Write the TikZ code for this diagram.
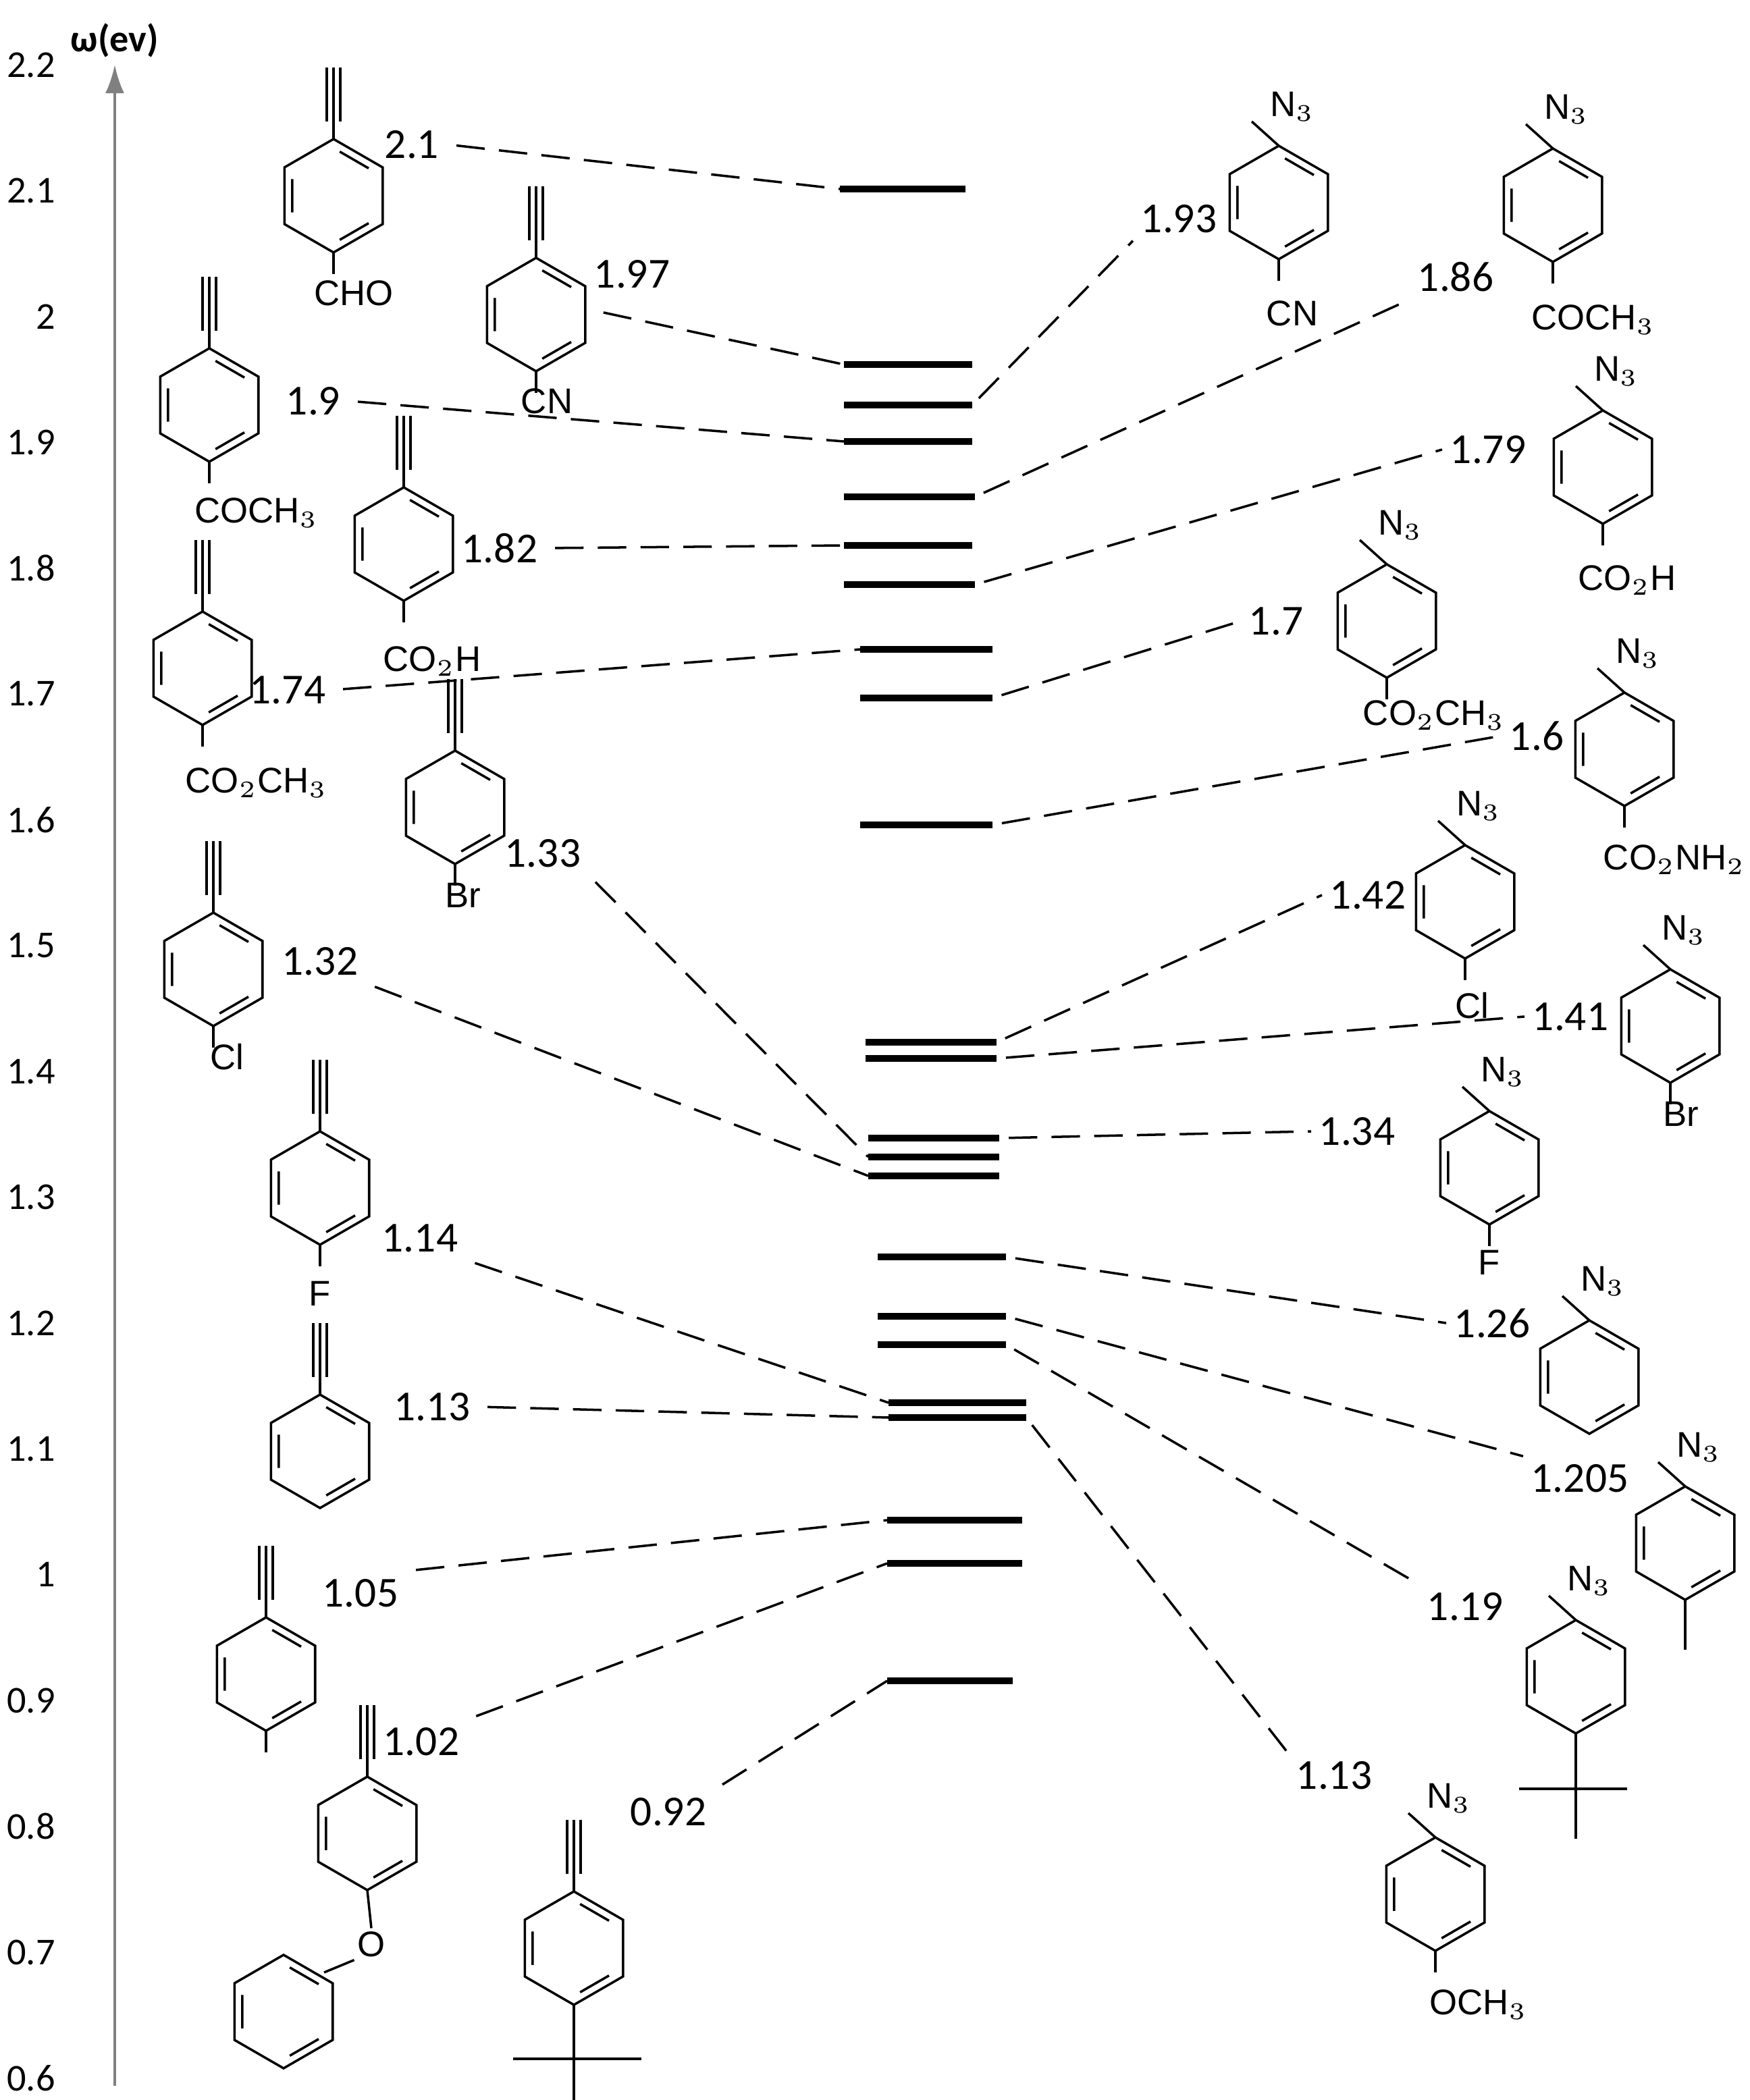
\documentclass[tikz,border=0pt]{standalone}
\usepackage{fontspec}
\setmainfont{Carlito}
\newfontfamily\chemf{Liberation Sans}
\usetikzlibrary{arrows.meta}
\begin{document}
\begin{tikzpicture}[x=0.01cm,y=-0.01cm,
 lev/.style={line width=1.3pt},
 dsh/.style={dashed,dash pattern=on 6pt off 3pt,line width=0.5pt,shorten <=2pt},
 num/.style={font=\fontsize{9}{10}\selectfont,inner sep=1.5pt},
 chem/.style={font=\chemf\fontsize{7.5}{9}\selectfont,inner sep=0.5pt},
 ax/.style={font=\fontsize{8}{9}\selectfont,anchor=east,inner sep=1pt},
 bond/.style={line width=0.5pt},
 ring/.pic={\draw[bond] (90:42)--(150:42)--(210:42)--(270:42)--(330:42)--(30:42)--cycle;
   \draw[bond] (38:33)--(82:33) (158:33)--(202:33) (278:33)--(322:33);},
 alk/.pic={\draw[bond] (0,-42)--(0,-95) (-5,-55)--(-5,-95) (5,-55)--(5,-95);},
 az/.pic={\draw[bond] (0,-42)--(-20,-60);},
 dn/.pic={\draw[bond] (0,42)--(0,58);}]
\useasboundingbox (0,0) rectangle (1295.5,1555.5);
% axis
\draw[gray,line width=0.6pt,-{Latex[length=6pt,width=4pt]}] (85,1545)--(85,48);
\node[font=\fontsize{8}{9}\selectfont\bfseries] (axt) at (85,30) {ω(ev)};
\foreach \v/\t in {0/2.2,1/2.1,2/2,3/1.9,4/1.8,5/1.7,6/1.6,7/1.5,8/1.4,9/1.3,10/1.2,11/1.1,12/1,13/0.9,14/0.8,15/0.7,16/0.6}
  \node[ax] (t\v) at (45,{48+\v*93.2}) {\t};
% levels
\foreach \n/\y/\a/\b in {a/140/622/715,b/270/625/720,c/300/625/720,d/327/625/720,e/368/625/722,f/404/625/720,g/433/625/722,h/481/637/735,i/517/637/735,j/611/637/735,k/772/641/738,l/784/641/738,m/843/643/740,n/857/643/740,o/871/643/740,p/931/650/745,q/975/650/745,r/996/650/745,s/1039/658/760,t/1050/658/760,u/1126/657/757,v/1158/657/757,w/1245/657/750}
 {\draw[lev] (\a,\y) coordinate (\n L) -- (\b,\y) coordinate (\n R);}
% left labels
\node[num] (x21) at (305,107) {2.1}; \draw[dsh] (x21.east)--(aL);
\node[num] (x197) at (468,203) {1.97}; \draw[dsh] (440,230)--(bL);
\node[num] (x19) at (232,297) {1.9}; \draw[dsh] (x19.east)--(dL);
\node[num] (x182) at (370,406) {1.82}; \draw[dsh] (x182.east)--(fL);
\node[num] (x174) at (213,511) {1.74}; \draw[dsh] (x174.east)--(hL);
\node[num] (x133) at (402,632) {1.33}; \draw[dsh] (x133.south east)--(nL);
\node[num] (x132) at (237,712) {1.32}; \draw[dsh] (x132.south east)--(oL);
\node[num] (x114) at (311,917) {1.14}; \draw[dsh] (x114.south east)--(sL);
\node[num] (x113) at (320,1042) {1.13}; \draw[dsh] (x113.east)--(tL);
\node[num] (x105) at (267,1180) {1.05}; \draw[dsh] (x105.north east)--(uL);
\node[num] (x102) at (312,1290) {1.02}; \draw[dsh] (x102.north east)--(vL);
\node[num] (x092) at (495,1342) {0.92}; \draw[dsh] (x092.north east)--(wL);
% right labels
\node[num] (y193) at (873,162) {1.93}; \draw[dsh] (cR)--(y193.south west);
\node[num] (y186) at (1078,205) {1.86}; \draw[dsh] (eR)--(y186.south west);
\node[num] (y179) at (1102,333) {1.79}; \draw[dsh] (gR)--(y179.west);
\node[num] (y17) at (945,460) {1.7}; \draw[dsh] (iR)--(y17.west);
\node[num] (y16) at (1138,545) {1.6}; \draw[dsh] (jR)--(y16.west);
\node[num] (y142) at (1013,663) {1.42}; \draw[dsh] (kR)--(y142.west);
\node[num] (y141) at (1163,753) {1.41}; \draw[dsh] (lR)--(y141.west);
\node[num] (y134) at (1005,838) {1.34}; \draw[dsh] (mR)--(y134.west);
\node[num] (y126) at (1105,980) {1.26}; \draw[dsh] (pR)--(y126.west);
\node[num] (y1205) at (1170,1095) {1.205}; \draw[dsh] (qR)--(y1205.north west);
\node[num] (y119) at (1085,1190) {1.19}; \draw[dsh] (rR)--(y119.north west);
\node[num] (y113) at (988,1315) {1.13}; \draw[dsh] (tR)--(y113.north west);
% left molecules (alkynes)
\foreach \x/\y in {247/145,397/233,155/300,299/403,150/495,337/598,158/718,237/880,237/1075,197/1240,272/1358,425/1443}
 {\pic at (\x,\y) {ring}; \pic at (\x,\y) {alk};}
\foreach \x/\y in {247/145,397/233,155/300,299/403,150/495,337/598,158/718,237/880,425/1443}
 {\pic at (\x,\y) {dn};}
\node[chem] (m1) at (262,217) {CHO};
\node[chem] (m2) at (405,297) {CN};
\node[chem] (m3) at (190,380) {COCH$_3$};
\node[chem] (m4) at (320,490) {CO$_2$H};
\node[chem] (m5) at (190,580) {CO$_2$CH$_3$};
\node[chem] (m6) at (343,663) {Br};
\node[chem] (m7) at (168,783) {Cl};
\node[chem] (m8) at (237,958) {F};
\draw[bond] (197,1282)--(197,1298);
\node[chem] (m11) at (275,1440) {O};
\draw[bond] (272,1400)--(m11.north) (m11.south west)--(240,1461);
\pic at (210,1490) {ring};
\draw[bond] (425,1485)--(425,1525) (380,1525)--(475,1525) (425,1525)--(425,1575);
% right molecules (azides)
\foreach \x/\y in {947/150,1150/152,1187/346,1027/460,1203/555,1085/668,1237/760,1103/865,1177/1020,1248/1143,1167/1242,1063/1403}
 {\pic at (\x,\y) {ring}; \pic at (\x,\y) {az}; \node[chem,anchor=south] at (\x+10,\y-58) {N$_3$};}
\foreach \x/\y in {947/150,1150/152,1187/346,1027/460,1203/555,1085/668,1237/760,1103/865,1063/1403}
 {\pic at (\x,\y) {dn};}
\node[chem] (r1) at (957,232) {CN};
\node[chem] (r2) at (1180,237) {COCH$_3$};
\node[chem] (r3) at (1205,430) {CO$_2$H};
\node[chem] (r4) at (1062,530) {CO$_2$CH$_3$};
\node[chem] (r5) at (1240,637) {CO$_2$NH$_2$};
\node[chem] (r6) at (1090,745) {Cl};
\node[chem] (r7) at (1245,825) {Br};
\node[chem] (r8) at (1103,935) {F};
\draw[bond] (1248,1185)--(1248,1222);
\draw[bond] (1167,1284)--(1167,1325) (1125,1325)--(1205,1325) (1167,1325)--(1167,1362);
\node[chem] (r12) at (1095,1485) {OCH$_3$};
\end{tikzpicture}
\end{document}
